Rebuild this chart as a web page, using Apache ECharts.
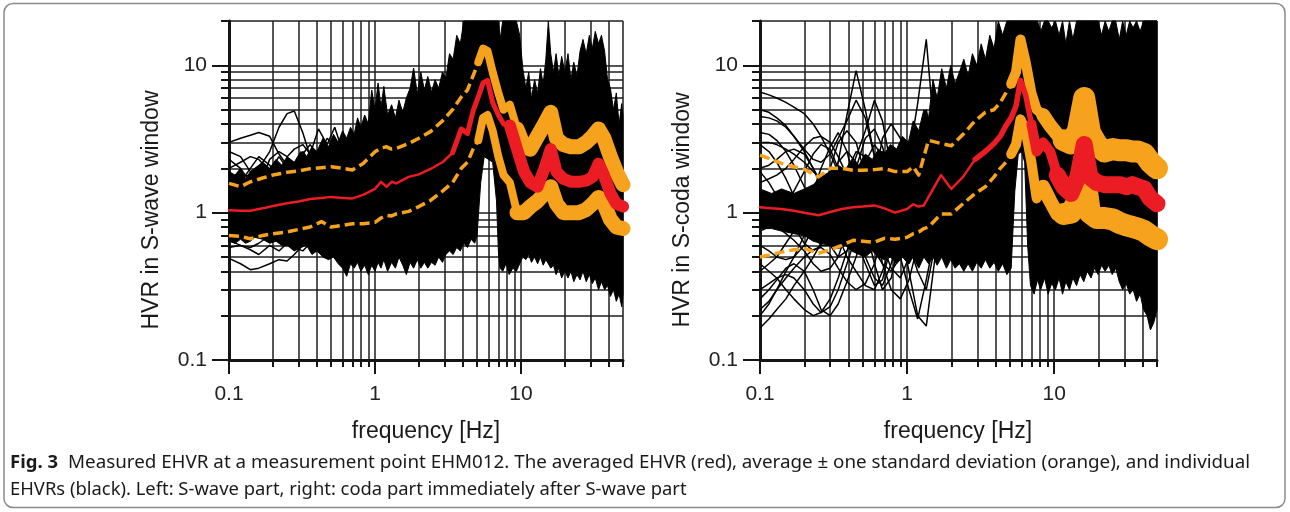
<!DOCTYPE html>
<html>
<head>
<meta charset="utf-8">
<script src="https://cdn.jsdelivr.net/npm/echarts@6/dist/echarts.min.js"></script>
<style>
  html, body { margin: 0; padding: 0; background: #fff; }
  #chart { width: 1290px; height: 512px; }
</style>
</head>
<body>
<div id="chart"></div>
<script>
// ---- frequency grid (Hz) shared by the averaged curves ----
const freqHz = [0.1, 0.12, 0.14, 0.17, 0.2, 0.25, 0.3, 0.36, 0.43, 0.5,
  0.6, 0.7, 0.83, 1.0, 1.1, 1.2, 1.3, 1.4, 1.7, 2.0,
  2.4, 2.9, 3.4, 3.9, 4.3, 4.7, 5.1, 5.5, 5.9, 6.4,
  7.0, 7.6, 8.4, 9.4, 10.5, 11.6, 13.0, 14.5, 16.0, 17.5,
  19.5, 22, 25, 28, 31, 34, 37, 41, 45, 50];

// ---- S-wave window: average and average +/- one standard deviation ----
const swaveMean = [1.04, 1.03, 1.03, 1.07, 1.11, 1.16, 1.19, 1.24, 1.26, 1.28,
  1.26, 1.25, 1.32, 1.45, 1.62, 1.5, 1.62, 1.58, 1.75, 1.82,
  1.98, 2.2, 2.55, 3.7, 3.45, 4.9, 6.1, 7.6, 7.9, 5.6,
  4.6, 4.0, 3.9, 2.7, 1.9, 1.6, 1.5, 2.0, 2.7, 1.9,
  1.7, 1.62, 1.62, 1.65, 1.75, 2.15, 1.8, 1.35, 1.15, 1.1];
const swaveUpper = [1.58, 1.5, 1.62, 1.72, 1.8, 1.88, 1.92, 1.99, 2.02, 2.05,
  2.0, 1.95, 2.16, 2.59, 2.75, 2.8, 2.7, 2.73, 2.95, 3.2,
  3.55, 4.2, 5.0, 6.1, 6.8, 8.5, 10.5, 13.0, 12.5, 9.0,
  6.5, 5.0, 5.4, 3.7, 2.8, 2.7, 3.3, 4.0, 4.8, 3.2,
  2.9, 2.8, 2.8, 3.0, 3.3, 3.7, 3.2, 2.4, 1.9, 1.55];
const swaveLower = [0.70, 0.69, 0.665, 0.7, 0.72, 0.74, 0.77, 0.8, 0.87, 0.8,
  0.82, 0.84, 0.84, 0.86, 0.92, 0.96, 0.95, 0.98, 1.02, 1.1,
  1.21, 1.4, 1.6, 2.0, 2.2, 2.7, 3.1, 4.4, 4.6, 3.6,
  2.4, 1.8, 1.6, 1.0, 1.0, 1.1, 1.2, 1.35, 1.5, 1.15,
  1.0, 1.0, 1.0, 1.05, 1.15, 1.27, 1.15, 0.9, 0.8, 0.78];

// ---- S-coda window: average and average +/- one standard deviation ----
const codaMean = [1.09, 1.07, 1.06, 1.03, 1.0, 0.96, 1.01, 1.06, 1.09, 1.1,
  1.12, 1.07, 1.0, 1.06, 1.14, 1.1, 1.12, 1.28, 1.8, 1.45,
  1.75, 2.3, 2.6, 2.95, 3.3, 3.9, 4.4, 5.3, 7.9, 6.3,
  4.0, 2.6, 3.0, 2.6, 1.8, 1.5, 1.35, 1.75, 2.9, 1.75,
  1.6, 1.55, 1.55, 1.55, 1.5, 1.55, 1.5, 1.45, 1.25, 1.15];
const codaUpper = [2.46, 2.3, 2.16, 2.05, 1.97, 1.75, 2.0, 2.0, 1.94, 1.94,
  1.96, 1.99, 1.9, 1.9, 2.05, 1.8, 2.4, 3.1, 2.95, 2.85,
  3.4, 4.2, 4.8, 5.0, 5.6, 6.5, 7.5, 9.0, 15.0, 10.5,
  6.5, 5.0, 4.6, 3.9, 3.4, 3.1, 2.95, 3.6, 6.0, 3.5,
  2.9, 2.6, 2.7, 2.65, 2.65, 2.6, 2.6, 2.5, 2.2, 2.0];
const codaLower = [0.5, 0.52, 0.54, 0.56, 0.57, 0.53, 0.56, 0.6, 0.65, 0.64,
  0.63, 0.67, 0.66, 0.68, 0.72, 0.74, 0.78, 0.8, 0.98, 0.98,
  1.15, 1.35, 1.5, 1.75, 2.0, 2.2, 2.5, 2.9, 4.3, 3.6,
  2.2, 1.25, 1.5, 1.2, 0.98, 0.98, 1.0, 1.2, 1.9, 1.0,
  0.92, 0.92, 0.9, 0.85, 0.82, 0.8, 0.78, 0.75, 0.7, 0.66];

// ---- spread of the individual EHVRs (dense part): upper and lower edges ----
const swaveSpreadFreq = [0.10, 0.11, 0.12, 0.13, 0.14, 0.15, 0.17, 0.19, 0.21, 0.23,
  0.25, 0.28, 0.31, 0.34, 0.37, 0.40, 0.44, 0.48, 0.52, 0.56,
  0.60, 0.64, 0.68, 0.72, 0.76, 0.80, 0.85, 0.90, 0.95, 1.00,
  1.05, 1.10, 1.15, 1.22, 1.30, 1.38, 1.46, 1.55, 1.64, 1.74,
  1.84, 1.95, 2.06, 2.18, 2.30, 2.44, 2.58, 2.73, 2.90, 3.06,
  3.24, 3.43, 3.63, 3.84, 4.06, 4.30, 4.55, 4.82, 5.0, 5.3,
  5.6, 6.0, 6.4, 6.8, 7.0, 7.2, 7.5, 7.9, 8.3, 8.8,
  9.3, 9.8, 10.3, 10.8, 11.3, 11.8, 12.4, 13.0, 13.6, 14.2,
  14.8, 15.4, 16.0, 16.7, 17.4, 18.2, 19.0, 20.0, 21.0, 22.0,
  23.0, 24.2, 25.4, 26.6, 28.0, 29.4, 30.8, 32.3, 34.0, 35.6,
  37.4, 39.2, 41.0, 43.0, 45.0, 47.0, 49.0, 50.0];
const swaveSpreadTop = [1.9, 1.8, 2.0, 1.7, 1.9, 2.0, 2.2, 2.0, 2.3, 2.1,
  2.4, 2.2, 2.6, 2.4, 2.8, 2.6, 3.2, 2.8, 3.4, 3.0,
  3.6, 3.2, 3.8, 3.4, 4.4, 3.8, 4.6, 4.0, 6.8, 5.0,
  7.6, 5.2, 7.2, 4.6, 5.4, 4.4, 5.8, 4.8, 6.0, 7.0,
  9.6, 6.4, 9.0, 6.8, 8.4, 6.6, 8.0, 7.0, 9.0, 8.2,
  12.0, 11.0, 16.0, 14.0, 20, 20, 20, 20, 20, 20,
  20, 20, 20, 20, 20, 15, 20, 20, 20, 20,
  20, 16, 9.5, 7.0, 9.0, 6.0, 8.0, 6.5, 9.5, 7.5,
  11.0, 20, 12.0, 9.0, 12.0, 8.5, 11.5, 9.0, 12.0, 8.0,
  10.5, 8.5, 12.5, 15.0, 12.0, 16.0, 13.0, 17.0, 14.0, 16.0,
  12.5, 8.0, 7.0, 5.0, 6.5, 4.0, 5.5, 4.5];
const swaveSpreadBottom = [0.64, 0.62, 0.66, 0.62, 0.64, 0.68, 0.66, 0.62, 0.64, 0.6,
  0.6, 0.55, 0.58, 0.6, 0.52, 0.55, 0.5, 0.48, 0.5, 0.45,
  0.42, 0.37, 0.45, 0.42, 0.46, 0.4, 0.44, 0.38, 0.44, 0.4,
  0.46, 0.42, 0.48, 0.40, 0.46, 0.42, 0.5, 0.44, 0.38, 0.46,
  0.42, 0.48, 0.42, 0.46, 0.42, 0.46, 0.44, 0.5, 0.46, 0.52,
  0.55, 0.52, 0.58, 0.55, 0.62, 0.58, 0.66, 0.62, 0.7, 1.6,
  2.4, 2.3, 2.2, 1.2, 0.55, 0.42, 0.4, 0.45, 0.38, 0.42,
  0.40, 0.45, 0.5, 0.48, 0.52, 0.46, 0.5, 0.45, 0.5, 0.44,
  0.48, 0.45, 0.42, 0.44, 0.38, 0.42, 0.36, 0.4, 0.36, 0.4,
  0.34, 0.38, 0.35, 0.4, 0.34, 0.38, 0.33, 0.36, 0.3, 0.34,
  0.3, 0.32, 0.27, 0.3, 0.25, 0.28, 0.23, 0.28];

const codaSpreadFreq = [0.10, 0.12, 0.14, 0.17, 0.20, 0.23, 0.26, 0.30, 0.34, 0.38,
  0.42, 0.47, 0.52, 0.58, 0.64, 0.70, 0.77, 0.85, 0.93, 1.02,
  1.10, 1.20, 1.30, 1.40, 1.50, 1.60, 1.72, 1.85, 1.98, 2.12,
  2.27, 2.43, 2.60, 2.78, 2.98, 3.19, 3.41, 3.65, 3.90, 4.17,
  4.46, 4.77, 5.10, 5.40, 5.70, 6.00, 6.30, 6.60, 6.90, 7.30,
  7.70, 8.10, 8.60, 9.10, 9.60, 10.2, 10.8, 11.4, 12.0, 12.7,
  13.4, 14.2, 15.0, 15.9, 16.8, 17.8, 18.8, 19.9, 21.0, 22.2,
  23.5, 24.8, 26.2, 27.7, 29.2, 30.9, 32.6, 34.4, 36.3, 38.4,
  40.5, 42.8, 45.1, 47.6, 50.0];
const codaSpreadTop = [1.45, 1.35, 1.45, 1.35, 1.45, 1.55, 1.75, 1.9, 2.1, 1.95,
  2.3, 2.1, 2.5, 2.3, 2.7, 2.5, 2.9, 2.7, 3.3, 3.0,
  4.2, 3.6, 5.0, 4.4, 8.0, 6.0, 9.5, 7.0, 10.0, 7.5,
  9.0, 11.0, 8.5, 12.0, 10.0, 14.0, 11.0, 16.0, 13.0, 20,
  16.0, 20, 20, 20, 20, 20, 20, 20, 20, 20,
  20, 17.0, 20, 20, 18.0, 20, 16.0, 20, 14.0, 20,
  15.0, 20, 20, 20, 20, 20, 20, 20, 16.0, 20,
  17.0, 20, 20, 15.0, 20, 16.0, 20, 18.0, 20, 17.0,
  20, 20, 20, 20, 20];
const codaSpreadBottom = [0.78, 0.78, 0.75, 0.72, 0.7, 0.64, 0.62, 0.6, 0.57, 0.6,
  0.55, 0.52, 0.5, 0.55, 0.5, 0.48, 0.5, 0.45, 0.5, 0.45,
  0.5, 0.42, 0.5, 0.45, 0.5, 0.44, 0.5, 0.42, 0.48, 0.42,
  0.45, 0.4, 0.45, 0.4, 0.46, 0.42, 0.48, 0.42, 0.46, 0.4,
  0.45, 0.38, 0.42, 1.4, 2.5, 2.6, 2.2, 0.6, 0.32, 0.28,
  0.35, 0.3, 0.36, 0.28, 0.33, 0.3, 0.36, 0.28, 0.34, 0.3,
  0.36, 0.32, 0.38, 0.34, 0.4, 0.36, 0.42, 0.38, 0.44, 0.4,
  0.44, 0.38, 0.42, 0.34, 0.3, 0.33, 0.28, 0.3, 0.25, 0.28,
  0.22, 0.2, 0.16, 0.18, 0.22];

// ---- individual EHVRs at low frequency (where they separate) ----
const swaveTraceFreq = [0.1, 0.12, 0.14, 0.16, 0.19, 0.22, 0.25, 0.28, 0.32, 0.36, 0.41, 0.47, 0.53, 0.6, 0.68, 0.77];
const swaveTraces = [
  [3.0, 3.2, 3.35, 3.5, 3.3, 2.5, 2.1, 1.9, 2.2, 1.8, 1.6, 1.8, 1.5, 1.7, 1.6, 1.8],
  [1.7, 1.75, 1.8, 2.0, 2.6, 3.8, 4.7, 4.9, 3.5, 2.4, 2.2, 2.6, 2.0, 1.8, 2.1, 1.9],
  [2.3, 2.0, 1.6, 1.5, 2.3, 2.6, 2.4, 2.7, 2.9, 2.5, 3.7, 2.9, 3.8, 2.6, 2.2, 2.4],
  [0.49, 0.45, 0.41, 0.42, 0.45, 0.48, 0.47, 0.52, 0.6, 0.7, 0.8, 0.75, 0.9, 1.0, 0.9, 1.1],
  [0.58, 0.6, 0.56, 0.52, 0.6, 0.55, 0.62, 0.58, 0.55, 0.62, 0.7, 0.6, 0.55, 0.65, 0.6, 0.7],
  [2.6, 2.4, 1.9, 1.5, 1.3, 1.2, 1.5, 2.0, 2.5, 2.9, 2.4, 3.2, 2.8, 2.2, 2.6, 3.0],
  [0.8, 0.7, 0.65, 0.75, 0.9, 1.2, 1.6, 2.1, 2.6, 2.2, 1.8, 1.5, 1.3, 1.2, 1.4, 1.3],
  [1.3, 1.6, 2.0, 2.4, 2.1, 1.7, 1.4, 1.2, 1.1, 1.3, 1.6, 2.0, 2.4, 2.8, 3.4, 2.9],
  [1.0, 0.9, 0.85, 0.95, 1.1, 0.95, 0.8, 0.7, 0.62, 0.58, 0.62, 0.55, 0.5, 0.45, 0.5, 0.55],
  [1.5, 1.4, 1.2, 1.0, 0.8, 0.7, 0.65, 0.6, 0.68, 0.8, 1.0, 1.3, 1.2, 1.5, 1.3, 1.6],
  [0.9, 1.0, 1.2, 1.5, 1.9, 2.4, 2.0, 1.5, 1.2, 1.0, 0.9, 0.8, 0.75, 0.8, 0.9, 1.0],
  [2.0, 2.2, 2.4, 2.3, 1.9, 1.5, 1.2, 1.0, 0.85, 0.75, 0.7, 0.65, 0.6, 0.7, 0.8, 0.7],
  [0.65, 0.6, 0.58, 0.62, 0.7, 0.8, 0.95, 1.1, 1.35, 1.6, 1.9, 2.3, 2.0, 1.7, 2.0, 2.6]
];
const codaTraceFreq = [0.1, 0.115, 0.13, 0.15, 0.17, 0.2, 0.23, 0.26, 0.3, 0.34, 0.39, 0.45, 0.52, 0.6, 0.68, 0.78, 0.9, 1.03, 1.18, 1.35, 1.55];
const codaTraces = [
  [6.6, 6.3, 6.0, 5.6, 5.2, 4.7, 4.0, 3.3, 2.5, 1.9, 1.4, 1.1, 0.95, 1.1, 1.5, 2.2, 2.8, 2.3, 1.8, 2.4, 1.6],
  [4.5, 4.4, 4.2, 3.8, 3.3, 2.6, 2.0, 1.6, 1.4, 2.2, 4.6, 9.2, 5.0, 2.4, 1.6, 1.2, 1.5, 2.0, 2.6, 3.2, 2.2],
  [0.165, 0.19, 0.22, 0.26, 0.32, 0.4, 0.5, 0.62, 0.8, 1.1, 1.6, 2.4, 3.6, 5.8, 4.2, 2.0, 1.1, 0.7, 0.5, 0.6, 0.9],
  [0.26, 0.3, 0.35, 0.42, 0.45, 0.4, 0.3, 0.22, 0.2, 0.24, 0.34, 0.5, 0.8, 1.2, 1.6, 2.2, 3.0, 2.6, 1.7, 1.2, 0.8],
  [3.5, 3.4, 3.1, 2.6, 2.1, 1.5, 1.1, 0.8, 0.6, 0.5, 0.55, 0.7, 1.0, 1.6, 3.2, 4.0, 3.2, 2.0, 1.3, 0.9, 0.7],
  [0.2, 0.24, 0.3, 0.4, 0.5, 0.7, 0.9, 1.3, 2.0, 3.0, 3.6, 3.0, 1.8, 0.9, 0.45, 0.3, 0.26, 0.35, 0.6, 1.0, 1.5],
  [2.9, 2.6, 2.2, 1.7, 1.3, 0.9, 0.7, 0.6, 0.6, 0.75, 1.2, 2.0, 3.2, 3.7, 2.8, 1.7, 1.0, 0.6, 0.4, 0.3, 0.6],
  [0.4, 0.45, 0.5, 0.62, 0.75, 1.0, 1.4, 2.0, 2.8, 3.5, 2.6, 1.5, 0.8, 0.45, 0.3, 0.36, 0.7, 1.4, 3.0, 5.0, 2.6],
  [1.2, 1.1, 1.0, 0.9, 0.85, 0.95, 1.2, 1.5, 1.7, 1.4, 1.0, 0.65, 0.45, 0.32, 0.35, 0.6, 1.2, 2.4, 5.5, 15.0, 3.0],
  [2.0, 2.1, 2.3, 2.6, 2.7, 2.5, 2.0, 1.5, 1.0, 0.7, 0.5, 0.4, 0.32, 0.3, 0.4, 0.6, 0.5, 0.3, 0.19, 0.35, 0.7],
  [0.6, 0.55, 0.5, 0.48, 0.5, 0.6, 0.8, 1.1, 1.6, 2.2, 2.6, 2.2, 1.4, 0.9, 0.6, 0.42, 0.36, 0.5, 0.9, 1.5, 1.2],
  [0.9, 0.85, 0.8, 0.72, 0.65, 0.55, 0.45, 0.4, 0.42, 0.5, 0.75, 1.3, 2.2, 2.9, 2.4, 1.5, 0.8, 0.4, 0.2, 0.17, 0.5],
  [1.6, 1.7, 1.8, 2.0, 2.3, 2.8, 3.2, 3.3, 3.0, 2.4, 1.8, 1.2, 0.8, 0.6, 0.55, 0.7, 1.1, 1.8, 2.5, 3.4, 2.2],
  [5.0, 4.8, 4.4, 3.9, 3.3, 2.7, 2.3, 2.2, 2.5, 3.2, 4.2, 5.8, 4.4, 2.4, 1.3, 0.8, 0.6, 0.8, 1.3, 1.8, 1.4],
  [0.3, 0.33, 0.36, 0.38, 0.36, 0.3, 0.24, 0.21, 0.23, 0.3, 0.45, 0.7, 1.1, 1.4, 1.2, 0.8, 0.55, 0.45, 0.6, 1.0, 1.3],
  [0.22, 0.25, 0.3, 0.36, 0.42, 0.5, 0.56, 0.58, 0.52, 0.42, 0.34, 0.3, 0.33, 0.45, 0.7, 1.0, 1.2, 0.9, 0.6, 0.5, 0.8],
  [1.9, 1.6, 1.3, 1.0, 0.8, 0.62, 0.55, 0.6, 0.8, 1.2, 1.9, 2.6, 2.4, 1.6, 1.0, 0.7, 0.7, 1.0, 1.7, 2.8, 2.0],
  [0.75, 0.8, 0.9, 1.1, 1.4, 1.9, 2.5, 2.9, 2.7, 2.0, 1.3, 0.8, 0.5, 0.36, 0.32, 0.45, 0.8, 1.3, 1.6, 1.2, 0.9],
  [3.0, 3.0, 2.9, 2.7, 2.5, 2.2, 1.9, 1.7, 1.5, 1.3, 1.1, 0.9, 0.7, 0.55, 0.45, 0.4, 0.5, 0.8, 1.2, 1.4, 1.1],
  [0.45, 0.4, 0.36, 0.3, 0.26, 0.22, 0.2, 0.21, 0.26, 0.36, 0.55, 0.85, 1.3, 2.0, 2.6, 2.4, 1.6, 1.0, 0.7, 0.5, 0.6]
];

// ---- axis ticks ----
const majorTicks = [0.1, 1, 10];
const minorTicksX = [0.2, 0.3, 0.4, 0.5, 0.6, 0.7, 0.8, 0.9, 2, 3, 4, 5, 6, 7, 8, 9, 20, 30, 40, 50];
const minorTicksY = [0.2, 0.3, 0.4, 0.5, 0.6, 0.7, 0.8, 0.9, 2, 3, 4, 5, 6, 7, 8, 9, 20];

const FONT = '"Liberation Sans", Arial, Helvetica, sans-serif';
const INK = '#151515';
const ORANGE = '#F6A21C';
const RED = '#EC1C24';

const panels = [
  {
    grid: { left: 229, top: 21, width: 394, height: 339 },
    yName: 'HVR in S-wave window', yNameX: 152, xNameX: 426,
    mean: swaveMean, upper: swaveUpper, lower: swaveLower,
    spreadFreq: swaveSpreadFreq, spreadTop: swaveSpreadTop, spreadBottom: swaveSpreadBottom,
    traceFreq: swaveTraceFreq, traces: swaveTraces,
    // [from Hz, to Hz, stroke width, dashed]
    orangeParts: [[0.1, 5.5, 3.5, true], [5.1, 10.5, 8], [9.4, 50, 15]],
    redParts: [[0.1, 4.3, 2.5], [3.4, 9.4, 5], [8.4, 50, 12]]
  },
  {
    grid: { left: 760, top: 21, width: 397, height: 339 },
    yName: 'HVR in S-coda window', yNameX: 683, xNameX: 958,
    mean: codaMean, upper: codaUpper, lower: codaLower,
    spreadFreq: codaSpreadFreq, spreadTop: codaSpreadTop, spreadBottom: codaSpreadBottom,
    traceFreq: codaTraceFreq, traces: codaTraces,
    orangeParts: [[0.1, 5.5, 3.5, true], [5.1, 9.4, 10], [8.4, 13, 14], [11.6, 50, 22]],
    redParts: [[0.1, 3.9, 2.5], [2.9, 7.6, 5.5], [7.0, 11.6, 10], [10.5, 50, 17]]
  }
];

function pairs(xs, ys) { return xs.map((x, i) => [x, ys[i]]); }
function span(xs, ys, lo, hi) { return pairs(xs, ys).filter(p => p[0] >= lo && p[0] <= hi); }
const fmt = v => String(+(+v).toPrecision(3));

const grids = [], xAxes = [], yAxes = [], series = [];

panels.forEach((p, g) => {
  grids.push(Object.assign({ outerBoundsMode: 'none', containLabel: false }, p.grid));
  const split = { show: true, lineStyle: { color: '#1e1e1e', width: 1.5 } };
  // major x axis: line, long ticks, labels
  xAxes.push({
    type: 'log', logBase: 10, gridIndex: g, min: 0.1, max: 50, position: 'bottom',
    axisLine: { show: true, lineStyle: { color: INK, width: 3 } },
    axisTick: { show: true, inside: false, customValues: majorTicks, length: 14, lineStyle: { color: INK, width: 2 } },
    axisLabel: { show: true, customValues: majorTicks, margin: 24, fontSize: 21, fontFamily: FONT, color: '#222', formatter: fmt },
    splitLine: split
  });
  // minor x axis: short ticks and the fine grid
  xAxes.push({
    type: 'log', logBase: 10, gridIndex: g, min: 0.1, max: 50, position: 'bottom',
    axisLine: { show: false },
    axisTick: { show: true, inside: false, customValues: minorTicksX, length: 7, lineStyle: { color: INK, width: 2 } },
    axisLabel: { show: false },
    splitLine: split
  });
  yAxes.push({
    type: 'log', logBase: 10, gridIndex: g, min: 0.1, max: 20, position: 'left',
    axisLine: { show: true, lineStyle: { color: INK, width: 3 } },
    axisTick: { show: true, inside: false, customValues: majorTicks, length: 17, lineStyle: { color: INK, width: 2 } },
    axisLabel: { show: true, customValues: majorTicks, margin: 22, fontSize: 21, fontFamily: FONT, color: '#222', formatter: fmt },
    splitLine: split
  });
  yAxes.push({
    type: 'log', logBase: 10, gridIndex: g, min: 0.1, max: 20, position: 'left',
    axisLine: { show: false },
    axisTick: { show: true, inside: false, customValues: minorTicksY, length: 8, lineStyle: { color: INK, width: 2 } },
    axisLabel: { show: false },
    splitLine: split
  });

  const xi = 2 * g, yi = 2 * g;

  // dense body of the individual EHVRs
  series.push({
    type: 'custom', xAxisIndex: xi, yAxisIndex: yi, silent: true, z: 2,
    data: [[1, 1]],
    renderItem: (params, api) => {
      const pts = [];
      for (let i = 0; i < p.spreadFreq.length; i++) pts.push(api.coord([p.spreadFreq[i], p.spreadTop[i]]));
      for (let i = p.spreadFreq.length - 1; i >= 0; i--) pts.push(api.coord([p.spreadFreq[i], p.spreadBottom[i]]));
      return { type: 'polygon', shape: { points: pts }, style: { fill: '#000', stroke: '#000', lineWidth: 1 } };
    }
  });

  // separated individual EHVRs
  p.traces.forEach(tr => {
    series.push({
      type: 'line', xAxisIndex: xi, yAxisIndex: yi, z: 3, silent: true,
      showSymbol: false, symbol: 'none',
      data: pairs(p.traceFreq, tr),
      lineStyle: { color: '#000', width: 1.5 }
    });
  });

  // average +/- one standard deviation
  [p.upper, p.lower].forEach(vals => {
    p.orangeParts.forEach(([lo, hi, w, dashed]) => {
      series.push({
        type: 'line', xAxisIndex: xi, yAxisIndex: yi, z: 4, silent: true,
        showSymbol: false, symbol: 'none',
        data: span(freqHz, vals, lo, hi),
        lineStyle: { color: ORANGE, width: w, type: dashed ? [10, 5] : 'solid', cap: dashed ? 'butt' : 'round', join: 'round' }
      });
    });
  });

  // averaged EHVR
  p.redParts.forEach(([lo, hi, w]) => {
    series.push({
      type: 'line', xAxisIndex: xi, yAxisIndex: yi, z: 5, silent: true,
      showSymbol: false, symbol: 'none',
      data: span(freqHz, p.mean, lo, hi),
      lineStyle: { color: RED, width: w, cap: 'round', join: 'round' }
    });
  });
});

const graphic = [
  { type: 'rect', z: 100, silent: true,
    shape: { x: 4, y: 3.5, width: 1281, height: 504, r: 9 },
    style: { fill: 'none', stroke: '#8c8c8c', lineWidth: 1.5 } }
];
panels.forEach(p => {
  graphic.push({ type: 'text', z: 100, silent: true, x: p.yNameX, y: 210, rotation: Math.PI / 2,
    style: { text: p.yName, font: '23px ' + FONT, fill: '#1a1a1a', align: 'center', verticalAlign: 'middle', textAlign: 'center', textVerticalAlign: 'middle' } });
  graphic.push({ type: 'text', z: 100, silent: true, x: p.xNameX, y: 432,
    style: { text: 'frequency [Hz]', font: '23px ' + FONT, fill: '#1a1a1a', align: 'center', verticalAlign: 'middle', textAlign: 'center', textVerticalAlign: 'middle' } });
});
const CAP_FONT = '"Noto Sans", "Open Sans", sans-serif';
graphic.push({ type: 'text', z: 100, silent: true, x: 10, y: 463,
  style: { text: 'Fig. 3', font: 'bold 18.5px ' + CAP_FONT, fill: '#1a1a1a', verticalAlign: 'middle', textVerticalAlign: 'middle' } });
graphic.push({ type: 'text', z: 100, silent: true, x: 68, y: 463,
  style: { text: 'Measured EHVR at a measurement point EHM012. The averaged EHVR (red), average \u00b1 one standard deviation (orange), and individual',
    font: '18.8px ' + CAP_FONT, fill: '#1a1a1a', verticalAlign: 'middle', textVerticalAlign: 'middle' } });
graphic.push({ type: 'text', z: 100, silent: true, x: 10, y: 490,
  style: { text: 'EHVRs (black). Left: S-wave part, right: coda part immediately after S-wave part',
    font: '18.4px ' + CAP_FONT, fill: '#1a1a1a', verticalAlign: 'middle', textVerticalAlign: 'middle' } });

const chart = echarts.init(document.getElementById('chart'), null, { renderer: 'canvas' });
chart.setOption({
  animation: false,
  backgroundColor: '#fff',
  grid: grids,
  xAxis: xAxes,
  yAxis: yAxes,
  series: series,
  graphic: graphic
});
</script>
</body>
</html>
